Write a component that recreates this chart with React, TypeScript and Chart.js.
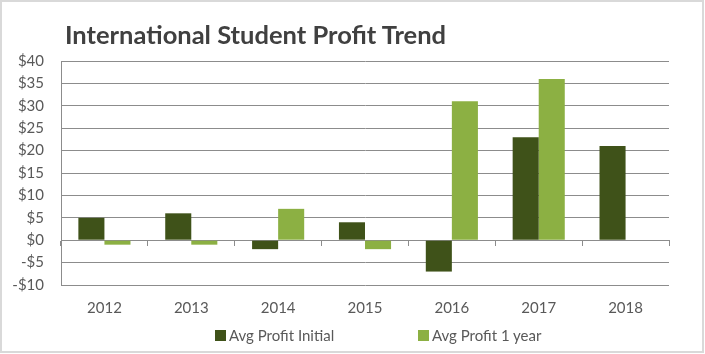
import React, { useEffect, useRef } from "react";
import { Chart, registerables } from "chart.js";

Chart.register(...registerables);

const chartTitle = "International Student Profit Trend";
const years = ["2012", "2013", "2014", "2015", "2016", "2017", "2018"];
const avgProfitInitial = [5, 6, -2, 4, -7, 23, 21];
const avgProfit1Year: (number | null)[] = [-1, -1, 7, -2, 31, 36, null];
const seriesNames = ["Avg Profit Initial", "Avg Profit 1 year"];
const seriesColors = ["#3f5219", "#8cb043"];
const yMin = -10;
const yMax = 40;
const yStep = 5;

const FONT = "Lato, 'Open Sans', sans-serif";
const TEXT = "#595959";
const GRID = "#8c8c8c";

export default function App() {
  const ref = useRef<HTMLCanvasElement | null>(null);

  useEffect(() => {
    let chart: Chart | null = null;
    let cancelled = false;
    const make = () => {
      if (cancelled || !ref.current) return;
      chart = new Chart(ref.current, {
        type: "bar",
        data: {
          labels: years,
          datasets: [
            {
              label: seriesNames[0],
              data: avgProfitInitial,
              backgroundColor: seriesColors[0],
              borderWidth: 0,
              xAxisID: "x",
              yAxisID: "y",
            },
            {
              label: seriesNames[1],
              data: avgProfit1Year,
              backgroundColor: seriesColors[1],
              borderWidth: 0,
              xAxisID: "x",
              yAxisID: "y",
            },
          ],
        },
        options: {
          animation: false,
          responsive: false,
          maintainAspectRatio: false,
          devicePixelRatio: 1,
          datasets: { bar: { categoryPercentage: 0.6, barPercentage: 1 } },
          layout: { padding: { left: 0, top: 61, right: 36, bottom: 0 } },
          plugins: {
            legend: { display: false },
            title: { display: false },
            tooltip: { enabled: false },
          },
          scales: {
            x: {
              type: "category",
              position: { y: 0 } as any,
              offset: true,
              ticks: { display: false },
              grid: {
                offset: true,
                drawOnChartArea: false,
                drawTicks: true,
                tickLength: 5,
                color: GRID,
                lineWidth: 1,
              },
              border: { display: true, color: GRID, width: 1 },
            },
            xl: {
              type: "category",
              position: "bottom",
              offset: true,
              grid: { display: false },
              border: { display: false },
              ticks: {
                color: TEXT,
                font: { family: FONT, size: 15 },
                padding: 6,
                maxRotation: 0,
                autoSkip: false,
              },
              afterFit: (s: any) => {
                s.height = 69;
              },
            },
            y: {
              type: "linear",
              min: yMin,
              max: yMax,
              ticks: {
                stepSize: yStep,
                color: TEXT,
                font: { family: FONT, size: 15 },
                padding: 17,
                callback: (v: any) => (v < 0 ? "-$" + Math.abs(v) : "$" + v),
              },
              grid: { color: GRID, lineWidth: 1, drawTicks: false },
              border: { display: true, color: GRID, width: 1 },
              afterFit: (s: any) => {
                s.width = 61;
              },
            },
          },
        },
      });
    };
    const fonts = (document as any).fonts;
    if (fonts && fonts.load) {
      Promise.all([
        fonts.load("15px Lato"),
        fonts.load("bold 25px Lato"),
      ]).then(make, make);
    } else {
      make();
    }
    return () => {
      cancelled = true;
      if (chart) chart.destroy();
    };
  }, []);

  return (
    <div
      style={{
        position: "fixed",
        left: 0,
        top: 0,
        width: 705,
        height: 354,
        background: "#ffffff",
        overflow: "hidden",
      }}
    >
      <canvas
        ref={ref}
        width={705}
        height={354}
        style={{ position: "absolute", left: 0, top: 0, width: 705, height: 354 }}
      />
      <div
        style={{
          position: "absolute",
          left: 0,
          top: 0,
          width: 704,
          height: 353,
          boxSizing: "border-box",
          border: "2px solid #d9d9d9",
          pointerEvents: "none",
        }}
      />
      <div
        style={{
          position: "absolute",
          left: 65,
          top: 21,
          fontFamily: FONT,
          fontWeight: 700,
          fontSize: 25.5,
          lineHeight: "26px",
          color: "#404040",
          whiteSpace: "nowrap",
        }}
      >
        {chartTitle}
      </div>
      {seriesNames.map((name, i) => (
        <div
          key={name}
          style={{
            position: "absolute",
            left: i === 0 ? 215 : 418,
            top: 327,
            height: 16,
            display: "flex",
            alignItems: "center",
            fontFamily: FONT,
            fontSize: 15,
            lineHeight: "16px",
            color: TEXT,
            whiteSpace: "nowrap",
          }}
        >
          <span
            style={{
              display: "inline-block",
              width: 11,
              height: 11,
              background: seriesColors[i],
              marginRight: 3,
            }}
          />
          {name}
        </div>
      ))}
    </div>
  );
}
